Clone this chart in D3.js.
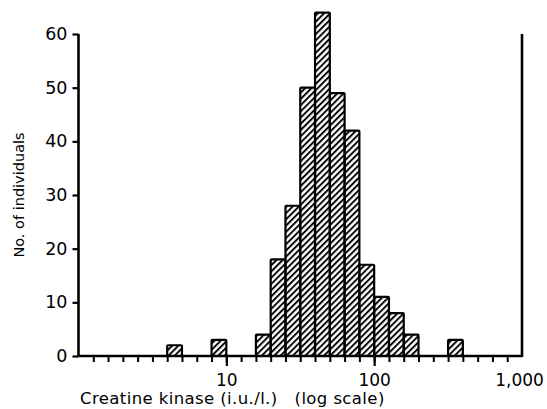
<!DOCTYPE html>
<html>
<head>
<meta charset="utf-8">
<script src="https://cdn.jsdelivr.net/npm/d3@7"></script>
<style>
  body { margin: 0; background: #fff; }
  svg text { font-family: "DejaVu Sans", sans-serif; fill: #000; }
</style>
</head>
<body>
<div id="chart"></div>
<script>
// bins: lower edge as log10(CK), each bin 0.1 log units wide
const binLog = [0.6, 0.9, 1.2, 1.3, 1.4, 1.5, 1.6, 1.7, 1.8, 1.9, 2.0, 2.1, 2.2, 2.5];
const counts = [2, 3, 4, 18, 28, 50, 64, 49, 42, 17, 11, 8, 4, 3];
const binWidth = 0.1;

const yTicks = [0, 10, 20, 30, 40, 50, 60];
const xMajor = [10, 100, 1000];
const xLabels = ["10", "100", "1,000"];

const W = 547, H = 409;
const svg = d3.select("#chart").append("svg")
    .attr("width", W)
    .attr("height", H);

// hatch pattern
const defs = svg.append("defs");
defs.append("pattern")
    .attr("id", "hatch")
    .attr("patternUnits", "userSpaceOnUse")
    .attr("width", 4.4)
    .attr("height", 4.4)
    .attr("patternTransform", "rotate(45)")
  .append("line")
    .attr("x1", 1).attr("y1", 0)
    .attr("x2", 1).attr("y2", 4.4)
    .attr("stroke", "#000")
    .attr("stroke-width", 1.9);

const x = d3.scaleLog()
    .domain([1, 1000])
    .range([78.5, 522]);

const y = d3.scaleLinear()
    .domain([0, 60])
    .range([356, 34]);

// bars
svg.selectAll(".bar")
  .data(binLog.map((lo, i) => ({ lo, n: counts[i] })))
  .enter().append("rect")
    .attr("class", "bar")
    .attr("x", d => x(Math.pow(10, d.lo)))
    .attr("y", d => y(d.n))
    .attr("width", d => x(Math.pow(10, d.lo + binWidth)) - x(Math.pow(10, d.lo)))
    .attr("height", d => y(0) - y(d.n))
    .attr("fill", "url(#hatch)")
    .attr("stroke", "#000")
    .attr("stroke-width", 2.2)
    .attr("rx", 1);

// y axis
const yAxis = svg.append("g")
    .attr("transform", `translate(${x(1)},0)`)
    .call(d3.axisLeft(y).tickValues(yTicks).tickSize(6).tickPadding(5));
yAxis.select(".domain").attr("stroke-width", 2.6).attr("d", `M0,${y(60)}V${y(0)}`);
yAxis.selectAll(".tick line").attr("stroke-width", 2.2);
yAxis.selectAll(".tick text")
    .attr("font-size", 17.5)
    .style("font-family", "DejaVu Sans, sans-serif");

// x axis: minor ticks every 0.1 log unit
const minorTicks = d3.range(1, 30).map(i => Math.pow(10, i / 10));
const xAxisMinor = svg.append("g")
    .attr("transform", `translate(0,${y(0)})`)
    .call(d3.axisBottom(x).tickValues(minorTicks).tickSize(6).tickFormat(""));
xAxisMinor.select(".domain").attr("stroke-width", 2.6).attr("d", `M${x(1)},0H${x(1000)}`);
xAxisMinor.selectAll(".tick line").attr("stroke-width", 2);

const xAxisMajor = svg.append("g")
    .attr("transform", `translate(0,${y(0)})`)
    .call(d3.axisBottom(x).tickValues(xMajor).tickSize(10).tickPadding(6)
      .tickFormat((d, i) => xLabels[i]));
xAxisMajor.select(".domain").remove();
xAxisMajor.selectAll(".tick line").attr("stroke-width", 2.2);
xAxisMajor.selectAll(".tick").filter(d => d === 1000).select("line").remove();
xAxisMajor.selectAll(".tick text")
    .attr("font-size", 17)
    .attr("dy", "0.85em")
    .style("font-family", "DejaVu Sans, sans-serif");
xAxisMajor.selectAll(".tick").filter(d => d === 1000).select("text")
    .attr("dx", -3);

// right frame line
svg.append("line")
    .attr("x1", x(1000)).attr("x2", x(1000))
    .attr("y1", y(60)).attr("y2", y(0) + 1)
    .attr("stroke", "#000")
    .attr("stroke-width", 2.6);

// titles
svg.append("text")
    .attr("transform", `translate(24,${(y(0) + y(60)) / 2}) rotate(-90)`)
    .attr("text-anchor", "middle")
    .attr("font-size", 14.5)
    .text("No. of individuals");

svg.append("text")
    .attr("x", 80)
    .attr("y", 404)
    .attr("font-size", 16.5)
    .attr("letter-spacing", 0.4)
    .attr("xml:space", "preserve")
    .text("Creatine kinase (i.u./l.)   (log scale)");
</script>
</body>
</html>
